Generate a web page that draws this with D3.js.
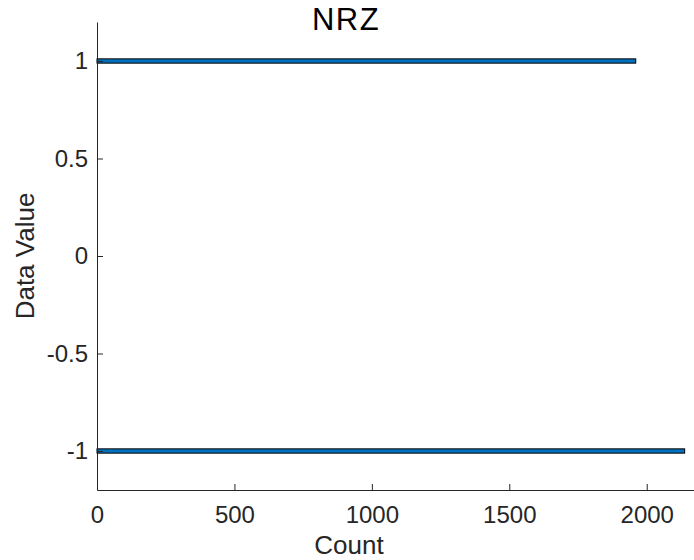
<!DOCTYPE html>
<html>
<head>
<meta charset="utf-8">
<script src="https://cdn.jsdelivr.net/npm/d3@7/dist/d3.min.js"></script>
<style>
  html, body { margin: 0; padding: 0; background: #fff; }
  svg { display: block; }
</style>
</head>
<body>
<div id="chart"></div>
<script>
// Histogram of NRZ symbol values
const binCenters = [-1, 1];
const binCounts = [2138, 1960];
const xTickValues = [0, 500, 1000, 1500, 2000];
const yTickValues = [-1, -0.5, 0, 0.5, 1];
const yTickLabels = ["-1", "-0.5", "0", "0.5", "1"];
const titleText = "NRZ";
const xLabelText = "Count";
const yLabelText = "Data Value";

const binWidth = 0.022;
const width = 694, height = 560;
const plot = { left: 97, right: 701.7, top: 22, bottom: 490 };

const svg = d3.select("#chart").append("svg")
  .attr("width", width).attr("height", height);

const x = d3.scaleLinear().domain([0, 2200]).range([plot.left, plot.right]);
const y = d3.scaleLinear().domain([-1.2, 1.2]).range([plot.bottom, plot.top]);

const bins = binCenters.map((c, i) => ({ center: c, count: binCounts[i] }));

// bars
svg.append("g").selectAll("rect").data(bins).enter().append("rect")
  .attr("x", x(0))
  .attr("y", d => y(d.center + binWidth / 2))
  .attr("width", d => x(d.count) - x(0))
  .attr("height", d => y(d.center - binWidth / 2) - y(d.center + binWidth / 2))
  .attr("fill", "#0072BD")
  .attr("stroke", "#000")
  .attr("stroke-width", 1);

const axisColor = "#262626";
const tickFont = "Liberation Sans, Arial, sans-serif";

// x axis (inward ticks)
const xAxis = svg.append("g")
  .attr("transform", `translate(0,${plot.bottom})`)
  .call(d3.axisBottom(x).tickValues(xTickValues).tickFormat(d3.format("d"))
    .tickSizeInner(-6).tickSizeOuter(0).tickPadding(16));
xAxis.select(".domain").attr("stroke", axisColor).attr("stroke-width", 1);
xAxis.selectAll(".tick line").attr("stroke", axisColor);
xAxis.selectAll(".tick text")
  .attr("fill", axisColor)
  .style("font-size", "24px")
  .style("font-family", tickFont)
  .attr("dy", "0.71em");

// y axis (inward ticks)
const yAxis = svg.append("g")
  .attr("transform", `translate(${plot.left},0)`)
  .call(d3.axisLeft(y).tickValues(yTickValues)
    .tickFormat((d, i) => yTickLabels[i])
    .tickSizeInner(-6).tickSizeOuter(0).tickPadding(9));
yAxis.select(".domain").attr("stroke", axisColor).attr("stroke-width", 1);
yAxis.selectAll(".tick line").attr("stroke", axisColor);
yAxis.selectAll(".tick text")
  .attr("fill", axisColor)
  .style("font-size", "24px")
  .style("font-family", tickFont);

// title
svg.append("text")
  .attr("x", 346).attr("y", 29.5)
  .attr("text-anchor", "middle")
  .attr("fill", "#000")
  .style("font-family", tickFont)
  .style("font-size", "31px")
  .style("letter-spacing", "1.5px")
  .text(titleText);

// axis labels
svg.append("text")
  .attr("x", 349).attr("y", 554)
  .attr("text-anchor", "middle")
  .attr("fill", axisColor)
  .style("font-family", tickFont)
  .style("font-size", "26px")
  .text(xLabelText);

svg.append("text")
  .attr("transform", `translate(34,${(plot.top + plot.bottom) / 2}) rotate(-90)`)
  .attr("text-anchor", "middle")
  .attr("fill", axisColor)
  .style("font-family", tickFont)
  .style("font-size", "26px")
  .text(yLabelText);
</script>
</body>
</html>
